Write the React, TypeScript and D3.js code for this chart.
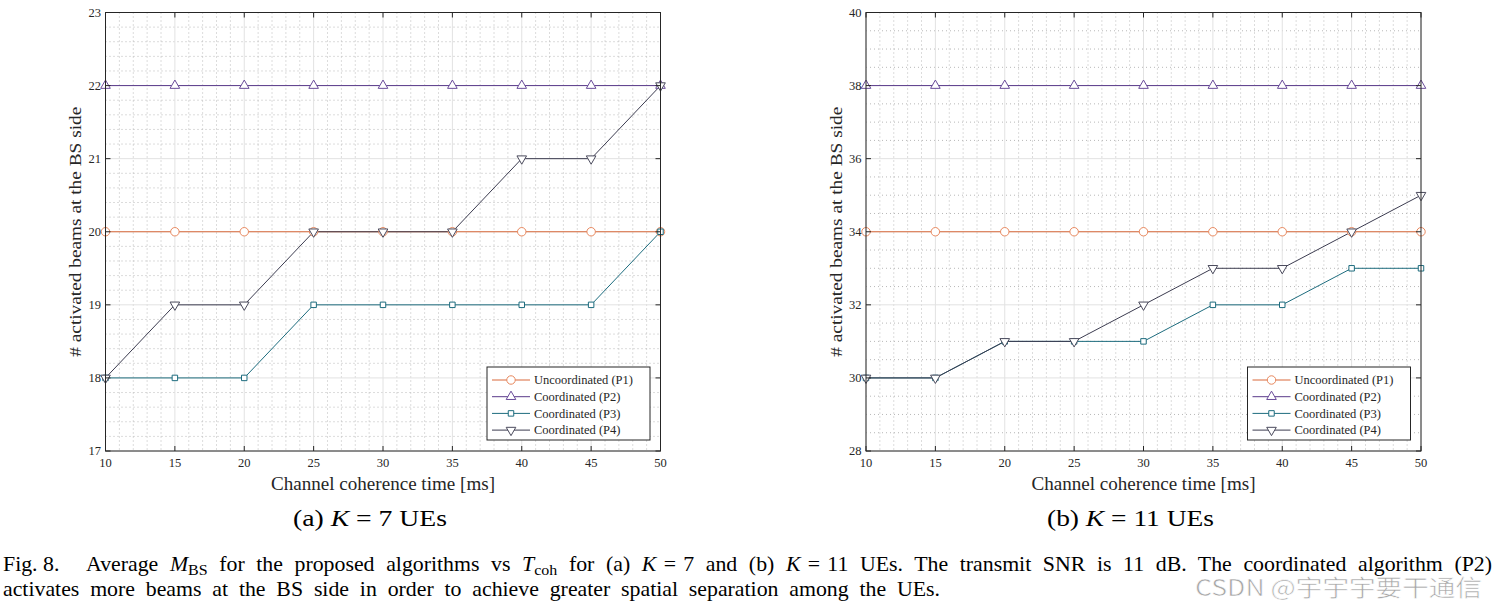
import React, { useEffect, useRef } from 'react';
import * as d3 from 'd3';

// ---------- data ----------
const coherenceTimes = [10, 15, 20, 25, 30, 35, 40, 45, 50];
const xTickValues = [10, 15, 20, 25, 30, 35, 40, 45, 50];

const aP1 = [20, 20, 20, 20, 20, 20, 20, 20, 20];
const aP2 = [22, 22, 22, 22, 22, 22, 22, 22, 22];
const aP3 = [18, 18, 18, 19, 19, 19, 19, 19, 20];
const aP4 = [18, 19, 19, 20, 20, 20, 21, 21, 22];
const aYTicks = [17, 18, 19, 20, 21, 22, 23];

const bP1 = [34, 34, 34, 34, 34, 34, 34, 34, 34];
const bP2 = [38, 38, 38, 38, 38, 38, 38, 38, 38];
const bP3 = [30, 30, 31, 31, 31, 32, 32, 33, 33];
const bP4 = [30, 30, 31, 31, 32, 33, 33, 34, 35];
const bYTicks = [28, 30, 32, 34, 36, 38, 40];

const seriesNames = ['Uncoordinated (P1)', 'Coordinated (P2)', 'Coordinated (P3)', 'Coordinated (P4)'];
const seriesLineColors = ['#D9693A', '#5A3A8A', '#1D6C7E', '#3C3C50'];
const seriesMarkerColors = ['#E8885E', '#6A4C9A', '#1D6C7E', '#4A4A5C'];
const seriesMarkers = ['circle', 'triangleUp', 'square', 'triangleDown'];

const SERIF = '"Liberation Serif", "Times New Roman", serif';
const AXIS = '#262626';
const MS = '\u2005';
const CAP_SX = 1.065;

type PanelProps = {
  left: number;
  right: number;
  top: number;
  bottom: number;
  yDomain: [number, number];
  yTicks: number[];
  yMinorStep: number;
  series: number[][];
  sub: string;
  subLabel: string;
  subNum: string;
  subX: number;
  subW: number;
};

function markerPath(kind: string): string {
  if (kind === 'circle') return d3.symbol().type(d3.symbolCircle).size(56)() as string;
  if (kind === 'square') return d3.symbol().type(d3.symbolSquare).size(30)() as string;
  return d3.symbol().type(d3.symbolTriangle).size(40)() as string;
}

function Marker({ kind, x, y, color }: { kind: string; x: number; y: number; color: string }) {
  const rot = kind === 'triangleDown' ? ' rotate(180)' : '';
  return (
    <path
      d={markerPath(kind)}
      transform={`translate(${x},${y})${rot}`}
      fill="#fff"
      stroke={color}
      strokeWidth={1}
    />
  );
}

function Panel(p: PanelProps) {
  const x = d3.scaleLinear().domain([10, 50]).range([p.left, p.right]);
  const y = d3.scaleLinear().domain(p.yDomain).range([p.bottom, p.top]);
  const xMinor = d3.range(10, 50.001, 1).filter((v) => v % 5 !== 0);
  const yMinor: number[] = [];
  for (let v = p.yDomain[0]; v <= p.yDomain[1] + 1e-9; v += p.yMinorStep) {
    const r = Math.round(v * 1000) / 1000;
    if (!p.yTicks.some((t) => Math.abs(t - r) < 1e-6)) yMinor.push(r);
  }
  const line = d3
    .line<number>()
    .x((_, i) => x(coherenceTimes[i]))
    .y((d) => y(d));
  const tickLen = 5;
  const legX = p.right - 173.5;
  const legY = 367;
  const legW = 163;
  const legH = 73;
  const cx = (p.left + p.right) / 2;
  return (
    <g>
      {xMinor.map((v) => (
        <line key={'xm' + v} x1={x(v)} x2={x(v)} y1={p.top} y2={p.bottom} stroke="#b8b8b8" strokeWidth={1} strokeDasharray="1 3" />
      ))}
      {yMinor.map((v) => (
        <line key={'ym' + v} x1={p.left} x2={p.right} y1={y(v)} y2={y(v)} stroke="#b8b8b8" strokeWidth={1} strokeDasharray="1 3" />
      ))}
      {xTickValues.map((v) => (
        <line key={'xg' + v} x1={x(v)} x2={x(v)} y1={p.top} y2={p.bottom} stroke="#e2e2e2" strokeWidth={1} />
      ))}
      {p.yTicks.map((v) => (
        <line key={'yg' + v} x1={p.left} x2={p.right} y1={y(v)} y2={y(v)} stroke="#e2e2e2" strokeWidth={1} />
      ))}
      {p.series.map((s, i) => (
        <path key={'l' + i} d={line(s) as string} fill="none" stroke={seriesLineColors[i]} strokeWidth={1} />
      ))}
      {p.series.map((s, i) =>
        s.map((v, j) => (
          <Marker key={'m' + i + '-' + j} kind={seriesMarkers[i]} x={x(coherenceTimes[j])} y={y(v)} color={seriesMarkerColors[i]} />
        ))
      )}
      <rect x={p.left} y={p.top} width={p.right - p.left} height={p.bottom - p.top} fill="none" stroke={AXIS} strokeWidth={1} />
      {xTickValues.map((v) => (
        <g key={'xt' + v}>
          <line x1={x(v)} x2={x(v)} y1={p.bottom} y2={p.bottom - tickLen} stroke={AXIS} />
          <line x1={x(v)} x2={x(v)} y1={p.top} y2={p.top + tickLen} stroke={AXIS} />
          <text x={x(v)} y={p.bottom + 16} textAnchor="middle" fontFamily={SERIF} fontSize={12.5} fill={AXIS}>
            {v}
          </text>
        </g>
      ))}
      {p.yTicks.map((v) => (
        <g key={'yt' + v}>
          <line x1={p.left} x2={p.left + tickLen} y1={y(v)} y2={y(v)} stroke={AXIS} />
          <line x1={p.right} x2={p.right - tickLen} y1={y(v)} y2={y(v)} stroke={AXIS} />
          <text x={p.left - 4.5} y={y(v) + 4.3} textAnchor="end" fontFamily={SERIF} fontSize={12.5} fill={AXIS}>
            {v}
          </text>
        </g>
      ))}
      <text
        x={cx}
        y={p.bottom + 39}
        textAnchor="middle"
        fontFamily={SERIF}
        fontSize={18}
        fill={AXIS}
        textLength={224}
        lengthAdjust="spacingAndGlyphs"
      >
        Channel coherence time [ms]
      </text>
      <text
        transform={`translate(${p.left - 24.5},${(p.top + p.bottom) / 2}) rotate(-90)`}
        textAnchor="middle"
        fontFamily={SERIF}
        fontSize={17.5}
        fill={AXIS}
        textLength={250}
        lengthAdjust="spacingAndGlyphs"
      >
        # activated beams at the BS side
      </text>
      <rect x={legX} y={legY} width={legW} height={legH} fill="#fff" stroke={AXIS} strokeWidth={1} />
      {seriesNames.map((name, i) => {
        const ly = legY + 13 + i * 16.7;
        return (
          <g key={'lg' + i}>
            <line x1={legX + 5} x2={legX + 43} y1={ly} y2={ly} stroke={seriesLineColors[i]} strokeWidth={1} />
            <Marker kind={seriesMarkers[i]} x={legX + 24} y={ly} color={seriesMarkerColors[i]} />
            <text x={legX + 47} y={ly + 4.3} fontFamily={SERIF} fontSize={12.5} fill={AXIS}>
              {name}
            </text>
          </g>
        );
      })}
      <text
        x={p.subX}
        y={526}
        fontFamily={SERIF}
        fontSize={23}
        fill="#000"
        textLength={p.subW}
        lengthAdjust="spacingAndGlyphs"
      >
        {p.sub + ' '}
        <tspan fontStyle="italic">{p.subLabel}</tspan>
        {MS + '=' + MS + p.subNum + ' UEs'}
      </text>
    </g>
  );
}

export default function App() {
  const ref = useRef<SVGSVGElement>(null);
  useEffect(() => {
    if (!ref.current) return;
    d3.select(ref.current)
      .selectAll<SVGTextElement, unknown>('text.justify')
      .each(function () {
        const el = this as SVGTextElement;
        el.setAttribute('word-spacing', '0');
        const w = el.getComputedTextLength();
        const target = +(el.getAttribute('data-w') || '0');
        const spaces = (el.textContent || '').split(' ').length - 1;
        if (spaces > 0) el.setAttribute('word-spacing', String(Math.max(0, (target - w) / spaces)));
      });
  }, []);
  return (
    <svg ref={ref} width={1497} height={607} style={{ position: 'absolute', left: 0, top: 0, background: '#fff' }}>
      <rect x={0} y={0} width={1497} height={607} fill="#fff" />
      <Panel
        left={105.5}
        right={660.5}
        top={12.5}
        bottom={451}
        yDomain={[17, 23]}
        yTicks={aYTicks}
        yMinorStep={0.2}
        series={[aP1, aP2, aP3, aP4]}
        sub="(a)"
        subLabel="K"
        subNum="7"
        subX={293}
        subW={154}
      />
      <Panel
        left={866}
        right={1421}
        top={12.5}
        bottom={451}
        yDomain={[28, 40]}
        yTicks={bYTicks}
        yMinorStep={0.5}
        series={[bP1, bP2, bP3, bP4]}
        sub="(b)"
        subLabel="K"
        subNum="11"
        subX={1047}
        subW={167}
      />
      {/* caption */}
      <g transform={`translate(3,571) scale(${CAP_SX},1)`}>
        <text x={0} y={0} fontFamily={SERIF} fontSize={20.5} fill="#000">
          Fig. 8.
        </text>
      </g>
      <g transform={`translate(86,571) scale(${CAP_SX},1)`}>
        <text className="justify" data-w={(1492 - 86) / CAP_SX} x={0} y={0} fontFamily={SERIF} fontSize={20.5} fill="#000">
          Average <tspan fontStyle="italic">M</tspan>
          <tspan fontSize={15} dy={4}>BS</tspan>
          <tspan dy={-4}> for the proposed algorithms vs </tspan>
          <tspan fontStyle="italic">T</tspan>
          <tspan fontSize={15} dy={4}>coh</tspan>
          <tspan dy={-4}> for (a) </tspan>
          <tspan fontStyle="italic">K</tspan>
          <tspan>{'\u2004=\u20047 and (b) '}</tspan>
          <tspan fontStyle="italic">K</tspan>
          <tspan>{'\u2004=\u200411 UEs. The transmit SNR is 11 dB. The coordinated algorithm (P2)'}</tspan>
        </text>
      </g>
      <g transform={`translate(3,596) scale(${CAP_SX},1)`}>
        <text className="justify" data-w={(940 - 3) / CAP_SX} x={0} y={0} fontFamily={SERIF} fontSize={20.5} fill="#000">
          activates more beams at the BS side in order to achieve greater spatial separation among the UEs.
        </text>
      </g>
      {/* watermark */}
      <text
        x={1195}
        y={596}
        fontFamily='"Noto Sans CJK SC", "Noto Sans", sans-serif'
        fontSize={23}
        fill="#a6a6a6"
        stroke="#ffffff"
        strokeWidth={0.6}
        textLength={287}
        lengthAdjust="spacingAndGlyphs"
      >
        CSDN @宇宇宇要干通信
      </text>
    </svg>
  );
}
